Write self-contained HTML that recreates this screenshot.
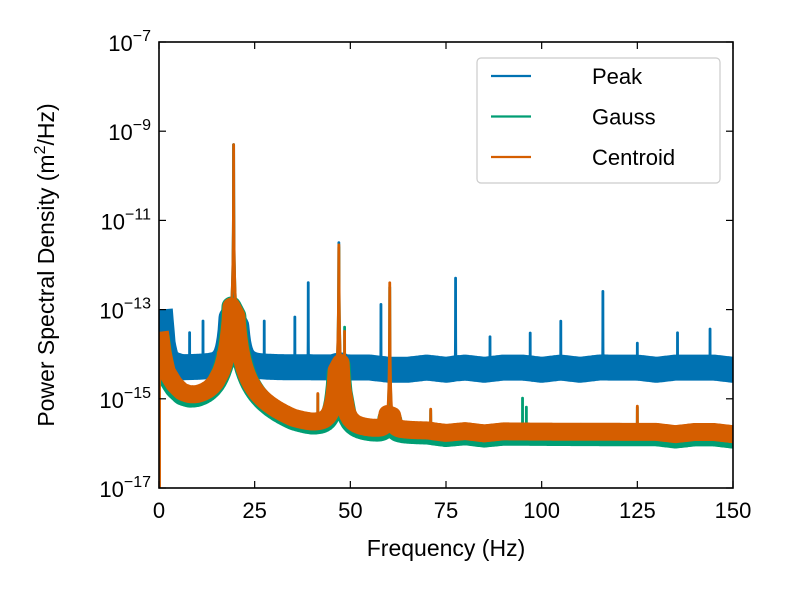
<!DOCTYPE html>
<html><head><meta charset="utf-8"><style>
body{margin:0;background:#fff}
svg{font-family:"Liberation Sans","DejaVu Sans",sans-serif}
</style></head><body>
<svg id="chart" width="789" height="592" viewBox="0 0 789 592">
<rect width="789" height="592" fill="#fff"/>
<g id="plot"></g>
<g id="axes"></g>
</svg>
<script>
// ---- data ----
const xTicks = [0, 25, 50, 75, 100, 125, 150];
const yTickExps = [-7, -9, -11, -13, -15, -17];
const seriesNames = ["Peak", "Gauss", "Centroid"];
const seriesColors = ["#0072b2", "#009e73", "#d55e00"];
// noise-floor (freq Hz, log10 PSD)
const peakBase = [[0.2,-13.0],[1,-13.8],[2,-14.15],[4,-14.25],[6,-14.3],[9,-14.3],[12,-14.3],[15,-14.3],[20,-14.25],[25,-14.3],[30,-14.3],[35,-14.3],[40,-14.3],[45,-14.3],[50,-14.3],[55,-14.3],[60,-14.35],[65,-14.35],[70,-14.3],[75,-14.35],[80,-14.3],[85,-14.35],[90,-14.3],[95,-14.3],[100,-14.35],[105,-14.3],[110,-14.35],[115,-14.3],[120,-14.3],[125,-14.3],[130,-14.35],[135,-14.3],[140,-14.3],[145,-14.3],[150,-14.35]];
const gaussBase = [[0.2,-13.6],[1,-14.1],[2,-14.5],[4,-14.8],[6,-15.0],[8,-15.1],[10,-15.15],[15,-15.2],[20,-15.3],[25,-15.45],[30,-15.6],[35,-15.75],[40,-15.8],[45,-15.8],[50,-15.85],[55,-15.85],[60,-15.85],[65,-15.85],[70,-15.85],[75,-15.9],[80,-15.85],[85,-15.9],[90,-15.85],[95,-15.85],[100,-15.85],[105,-15.85],[110,-15.85],[115,-15.85],[120,-15.85],[125,-15.85],[130,-15.85],[135,-15.9],[140,-15.85],[145,-15.85],[150,-15.9]];
const centroidBase = [[0.2,-13.5],[1,-14.0],[2,-14.4],[4,-14.7],[6,-14.9],[8,-15.0],[10,-15.05],[15,-15.1],[20,-15.2],[25,-15.35],[30,-15.5],[35,-15.65],[40,-15.7],[45,-15.7],[50,-15.75],[55,-15.75],[60,-15.75],[65,-15.75],[70,-15.75],[75,-15.8],[80,-15.75],[85,-15.8],[90,-15.75],[95,-15.75],[100,-15.75],[105,-15.75],[110,-15.75],[115,-15.75],[120,-15.75],[125,-15.75],[130,-15.75],[135,-15.8],[140,-15.75],[145,-15.75],[150,-15.8]];
// peaks: [freq Hz, log10 peak height, lorentz half-width Hz]
const peakPeaks = [[8,-13.6,0.006],[11.5,-13.3,0.006],[19.5,-9.3,0.006],[27.5,-13.3,0.006],[35.5,-13.2,0.006],[39,-12.4,0.006],[47,-11.5,0.006],[58,-12.9,0.006],[77.5,-12.3,0.006],[86.5,-13.7,0.006],[97,-13.6,0.006],[105,-13.3,0.006],[116,-12.6,0.006],[125,-13.9,0.006],[135.5,-13.6,0.006],[144,-13.5,0.006]];
const gaussPeaks = [[19.5,-9.3,0.0084],[41.5,-15.0,0.005],[47,-11.6,0.021],[48.5,-13.4,0.006],[60.3,-12.5,0.015],[71,-15.4,0.02],[95,-15.05,0.005],[96,-15.3,0.005],[125,-15.3,0.01]];
const centroidPeaks = [[15.5,-14.1,0.006],[19.5,-9.3,0.0084],[41.5,-15.0,0.005],[47,-11.55,0.021],[48.5,-13.5,0.006],[60.3,-12.4,0.015],[71,-15.4,0.02],[125,-15.3,0.01]];

// ---- axes ----
const X0=159,X1=733,Y0=42,Y1=488;
const xs=f=>X0+(f/150)*(X1-X0);
const ys=l=>Y0+(-7-l)/10*(Y1-Y0);
const NS="http://www.w3.org/2000/svg";
function mk(tag,attrs,parent){const e=document.createElementNS(NS,tag);for(const k in attrs)e.setAttribute(k,attrs[k]);parent.appendChild(e);return e;}
const plot=document.getElementById('plot'),axes=document.getElementById('axes');
const defs=mk('defs',{},plot);
const cp=mk('clipPath',{id:'clip'},defs);mk('rect',{x:X0,y:Y0,width:X1-X0,height:Y1-Y0},cp);
const pg=mk('g',{'clip-path':'url(#clip)'},plot);

const offs=[-0.6,-0.45,-0.33,-0.24,-0.17,-0.12,-0.08,-0.05,-0.03,-0.015,0,0.015,0.03,0.05,0.08,0.12,0.17,0.24,0.33,0.45,0.6];
function baseAt(base,f){for(let i=1;i<base.length;i++){if(f<=base[i][0]){const a=base[i-1],b=base[i];const t=(f-a[0])/(b[0]-a[0]);return a[1]+t*(b[1]-a[1]);}}return base[base.length-1][1];}
function valAt(base,peaks,f){
  let s=Math.pow(10,baseAt(base,f));
  peaks.forEach(p=>{const o=f-p[0];s+=Math.pow(10,p[1])/(1+(o/p[2])*(o/p[2]));});
  return Math.log10(s);
}
function drawSeries(base,peaks,color,width,key){
  let d='',i=0;
  for(let f=0.2;f<=150.2;f+=0.25){
    if(peaks.some(p=>Math.abs(f-p[0])<0.45))continue;
    d+=(i?'L':'M')+xs(f).toFixed(1)+','+ys(valAt(base,peaks,f)).toFixed(1);
    i++;
  }
  const band=mk('path',{d:d,fill:'none',stroke:color,'stroke-width':width,'stroke-linejoin':'round'},pg);
  
  
  peaks.forEach(p=>{
    let pd='';
    offs.forEach((o,j)=>{
      const f=p[0]+o;
      pd+=(j?'L':'M')+xs(f).toFixed(2)+','+ys(valAt(base,peaks,f)).toFixed(1);
    });
    const pk=mk('path',{d:pd,fill:'none',stroke:color,'stroke-width':2.8,'stroke-linejoin':'round'},pg);
    
    
  });
}
drawSeries(peakBase,peakPeaks,seriesColors[0],26,'peak');
drawSeries(gaussBase,gaussPeaks,seriesColors[1],20,'gauss');
drawSeries(centroidBase,centroidPeaks,seriesColors[2],18,'centroid');
const edge=mk('line',{x1:xs(0.25),y1:ys(-13.5),x2:xs(0.25),y2:Y1,stroke:seriesColors[2],'stroke-width':2},pg);



const frame=mk('rect',{x:X0,y:Y0,width:X1-X0,height:Y1-Y0,fill:'none',stroke:'#000','stroke-width':1.6},axes);


xTicks.forEach(t=>{
  const x=xs(t);
  mk('line',{x1:x,y1:Y1,x2:x,y2:Y1-7,stroke:'#000','stroke-width':1.2},axes);
  mk('line',{x1:x,y1:Y0,x2:x,y2:Y0+7,stroke:'#000','stroke-width':1.2},axes);
  const tx=mk('text',{x:x,y:Y1+30,'font-size':22,'text-anchor':'middle'},axes);
  tx.textContent=t;
  
  
});
yTickExps.forEach(e=>{
  const y=ys(e);
  mk('line',{x1:X0,y1:y,x2:X0+7,y2:y,stroke:'#000','stroke-width':1.2},axes);
  mk('line',{x1:X1,y1:y,x2:X1-7,y2:y,stroke:'#000','stroke-width':1.2},axes);
  const tx=mk('text',{x:X0-8,y:y+9,'font-size':22,'text-anchor':'end'},axes);
  const a=mk('tspan',{},tx);a.textContent='10';
  const b=mk('tspan',{dy:-10,'font-size':16},tx);b.textContent='\u2212'+Math.abs(e);
  
  
});
const xl=mk('text',{x:446,y:556,'font-size':23,'text-anchor':'middle'},axes);
xl.textContent='Frequency (Hz)';


const yl=mk('text',{x:0,y:0,'font-size':23,'text-anchor':'middle',transform:'translate(54,265) rotate(-90)'},axes);
const y1=mk('tspan',{},yl);y1.textContent='Power Spectral Density (m';
const y2=mk('tspan',{dy:-9,'font-size':16},yl);y2.textContent='2';
const y3=mk('tspan',{dy:9},yl);y3.textContent='/Hz)';



const lg=mk('g',{},axes);


mk('rect',{x:477,y:58,width:243,height:125,rx:4,fill:'#fff',stroke:'#ccc','stroke-width':1.2},lg);
seriesNames.forEach((n,i)=>{
  const y=76+i*40.5;
  const ge=mk('g',{},lg);
  
  
  mk('line',{x1:491,y1:y,x2:531,y2:y,stroke:seriesColors[i],'stroke-width':2.2},ge);
  const t=mk('text',{x:592,y:y+8,'font-size':22},ge);t.textContent=n;
});
</script>
</body></html>
